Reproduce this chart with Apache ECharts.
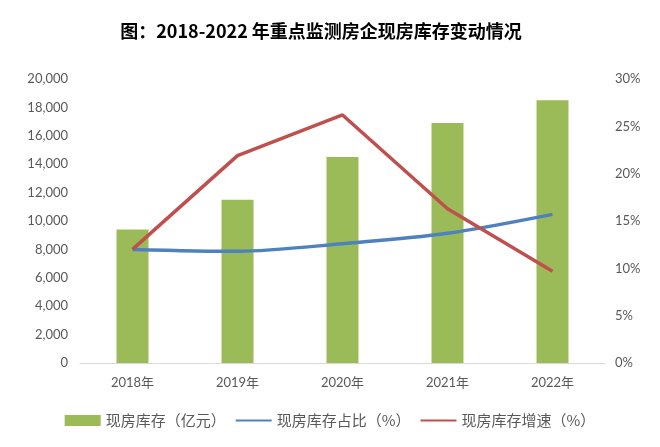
<!DOCTYPE html>
<html><head><meta charset="utf-8">
<script src="https://cdn.jsdelivr.net/npm/echarts@6/dist/echarts.min.js"></script>
<style>html,body{margin:0;padding:0;background:#fff}#c{width:660px;height:447px}</style>
</head><body><div id="c"></div>
<script>
const categories = ['2018年','2019年','2020年','2021年','2022年'];
const inventory = [9400, 11500, 14500, 16900, 18500];
const sharePct = [12.0, 11.8, 12.6, 13.7, 15.7];
const growthPct = [12.0, 21.9, 26.2, 16.3, 9.7];
const leftTicks = [0, 20000, 2000];
const rightTicks = [0, 30, 5];

const gray = '#595959';
const tickFont = 'Lato, "Noto Sans CJK SC", sans-serif';
const chart = echarts.init(document.getElementById('c'), null, {renderer:'canvas'});
chart.setOption({
  animation: false,
  backgroundColor: '#fff',
  title: {
    text: '图：2018-2022 年重点监测房企现房库存变动情况',
    left: 316, top: 17, textAlign: 'center',
    textStyle: {fontFamily: '"Noto Sans CJK SC", sans-serif', fontWeight: 'bold', fontSize: 18, color: '#000'}
  },
  legend: {
    bottom: 14, left: 'center', itemGap: 9, itemWidth: 36, itemHeight: 11,
    textStyle: {color: gray, fontSize: 15, fontFamily: '"Noto Sans CJK SC", sans-serif'},
    data: [
      {name: '现房库存（亿元）', icon: 'rect'},
      {name: '现房库存占比（%）', itemStyle: {opacity: 0}},
      {name: '现房库存增速（%）', itemStyle: {opacity: 0}}
    ]
  },
  grid: {left: 80, right: 55, top: 79, bottom: 84, containLabel: false},
  xAxis: {
    type: 'category', data: categories,
    axisLine: {lineStyle: {color: '#D9D9D9', width: 1}},
    axisTick: {show: false},
    axisLabel: {color: gray, fontSize: 13, margin: 13, fontFamily: tickFont}
  },
  yAxis: [
    {type: 'value', min: leftTicks[0], max: leftTicks[1], interval: leftTicks[2],
     splitLine: {show: false}, axisLine: {show: false}, axisTick: {show: false},
     axisLabel: {color: gray, fontSize: 13, margin: 12, fontFamily: tickFont,
       formatter: v => v.toLocaleString('en-US')}},
    {type: 'value', min: rightTicks[0], max: rightTicks[1], interval: rightTicks[2],
     splitLine: {show: false}, axisLine: {show: false}, axisTick: {show: false},
     axisLabel: {color: gray, fontSize: 13, margin: 10, fontFamily: tickFont, formatter: '{value}%'}}
  ],
  series: [
    {name: '现房库存（亿元）', type: 'bar', data: inventory, barWidth: 32,
     itemStyle: {color: '#9BBB59'}},
    {name: '现房库存占比（%）', type: 'line', yAxisIndex: 1, data: sharePct, smooth: 0.3,
     symbol: 'none', lineStyle: {color: '#4F81BD', width: 3.5}, itemStyle: {color: '#4F81BD'}},
    {name: '现房库存增速（%）', type: 'line', yAxisIndex: 1, data: growthPct,
     symbol: 'none', lineStyle: {color: '#C0504D', width: 3.5}, itemStyle: {color: '#C0504D'}}
  ]
});
</script></body></html>
